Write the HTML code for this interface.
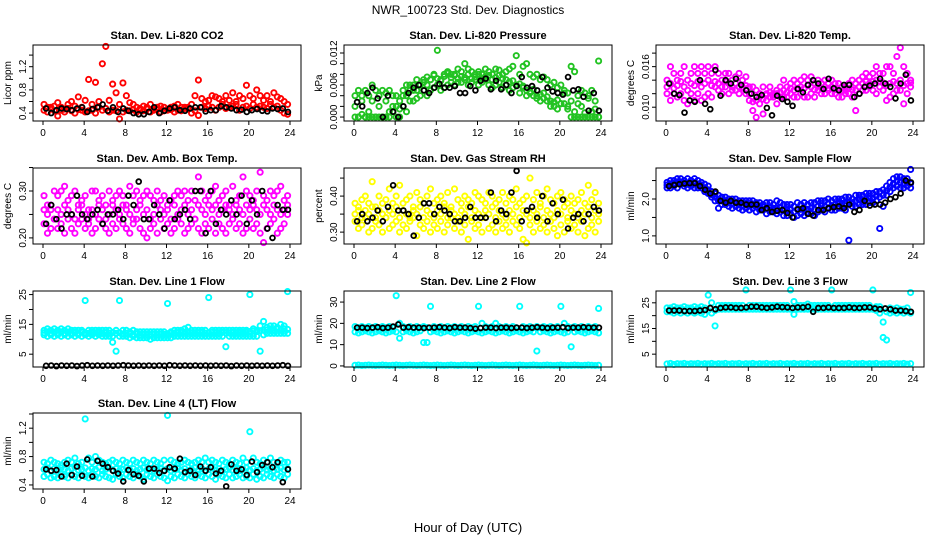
<!DOCTYPE html>
<html><head><meta charset="utf-8"><style>
html,body{margin:0;padding:0;background:#fff;}
svg{display:block;font-family:"Liberation Sans",Arial,sans-serif;}
</style></head><body>
<svg id="c" width="936" height="540" viewBox="0 0 936 540">
<rect width="936" height="540" fill="#fff"/>
<text x="468" y="14" text-anchor="middle" font-size="12">NWR_100723 Std. Dev. Diagnostics</text>
<text x="468" y="532" text-anchor="middle" font-size="13">Hour of Day (UTC)</text>
</svg>
<script>
const xTicks=[0,4,8,12,16,20,24];
// Panel 1 CO2
const co2A=[0.55,0.5,0.48,0.52,0.58,0.5,0.47,0.55,0.6,0.52,0.68,0.5,0.62,0.98,0.55,0.93,0.6,1.25,1.55,0.62,0.9,0.75,0.55,0.92,0.7,0.58,0.55,0.5,0.48,0.52,0.5,0.55,0.48,0.5,0.52,0.5,0.47,0.5,0.52,0.55,0.5,0.48,0.5,0.55,0.7,0.97,0.65,0.6,0.62,0.7,0.68,0.65,0.6,0.7,0.62,0.75,0.6,0.7,0.65,0.88,0.7,0.65,0.8,0.7,0.62,0.7,0.6,0.75,0.68,0.65,0.6,0.55];
const co2B=[0.45,0.42,0.5,0.44,0.35,0.45,0.42,0.48,0.44,0.4,0.46,0.45,0.42,0.44,0.45,0.4,0.5,0.45,0.48,0.42,0.45,0.44,0.3,0.42,0.45,0.44,0.46,0.42,0.45,0.44,0.47,0.42,0.45,0.46,0.42,0.44,0.45,0.46,0.42,0.45,0.44,0.5,0.47,0.4,0.44,0.36,0.5,0.48,0.52,0.5,0.45,0.5,0.55,0.48,0.5,0.52,0.55,0.45,0.5,0.52,0.48,0.55,0.5,0.52,0.5,0.48,0.55,0.5,0.52,0.45,0.4,0.38];
const co2K=[0.48,0.4,0.45,0.48,0.47,0.45,0.48,0.5,0.42,0.47,0.5,0.55,0.44,0.5,0.42,0.48,0.44,0.4,0.38,0.38,0.42,0.5,0.4,0.44,0.48,0.5,0.45,0.44,0.48,0.5,0.5,0.43,0.45,0.45,0.52,0.5,0.48,0.45,0.46,0.42,0.45,0.47,0.44,0.43,0.48,0.47,0.48,0.42];
// Panel 2 Pressure
const prA=[0.004,0.005,0.003,0.005,0.004,0.006,0.005,0.004,0.005,0.003,0.005,0.004,0.002,0.003,0.004,0.006,0.005,0.006,0.005,0.006,0.007,0.006,0.007,0.008,0.0125,0.007,0.008,0.0085,0.008,0.008,0.009,0.0085,0.01,0.009,0.0085,0.008,0.0085,0.008,0.009,0.0085,0.008,0.009,0.0088,0.008,0.0085,0.009,0.0095,0.0115,0.008,0.0095,0.01,0.008,0.0075,0.008,0.007,0.0075,0.007,0.006,0.0065,0.0055,0.006,0.005,0.0045,0.0095,0.0085,0.004,0.005,0.0045,0.004,0.005,0.003,0.0105];
const prB=[0,0,0.0005,0,0,0,0,0,0,0,0.001,0.001,0,0.0015,0.002,0.001,0.003,0.003,0.0035,0.004,0.005,0.004,0.005,0.0055,0.006,0.005,0.0055,0.006,0.0065,0.006,0.0065,0.0065,0.007,0.006,0.0065,0.007,0.006,0.0065,0.007,0.006,0.0055,0.006,0.0065,0.0055,0.006,0.005,0.0055,0.006,0.0045,0.0055,0.004,0.0045,0.004,0.0035,0.003,0.0045,0.003,0.002,0.002,0.0015,0.0025,0.0025,0.0015,0,0,0,0,0,0,0,0,0];
const prC=[0.002,0,0.004,0,0.001,0.003,0,0.002,0,0.0045,0,0.002,0.004,0,0.005,0.004,0.006,0.005,0.007,0.006,0.0065,0.0075,0.007,0.0078,0.0072,0.0068,0.0076,0.0082,0.0074,0.0078,0.0072,0.0076,0.0074,0.008,0.0072,0.0075,0.008,0.0072,0.0076,0.0078,0.007,0.0074,0.0078,0.0072,0.007,0.0066,0.0068,0.006,0.0062,0.0058,0.005,0.0048,0.0052,0.004,0.0042,0.0035,0.0038,0.003,0.0028,0.0032,0.0025,0.0045,0.002,0.003,0.001,0.0025,0.002,0.0008,0.0035,0.001,0.0015,0];
const prK=[0.0028,0.002,0.0045,0.0055,0.0035,0,0.004,0.001,0,0.002,0.0045,0.0055,0.006,0.005,0.0045,0.0055,0.0062,0.0055,0.0055,0.0058,0.0045,0.0045,0.0058,0.005,0.0068,0.0072,0.0052,0.0068,0.0052,0.006,0.0045,0.0058,0.0075,0.0055,0.0058,0.005,0.0075,0.0055,0.0048,0.0045,0.0042,0.0075,0.005,0.0052,0.0038,0.0012,0.0045,0.0012];
// Panel 3 Li-820 Temp
const tpA=[0.014,0.016,0.015,0.014,0.015,0.016,0.014,0.015,0.016,0.015,0.016,0.015,0.016,0.015,0.016,0.015,0.014,0.015,0.015,0.014,0.0145,0.015,0.014,0.0145,0.013,0.013,0.0125,0.012,0.013,0.012,0.013,0.012,0.0125,0.013,0.014,0.013,0.0135,0.014,0.0135,0.014,0.0145,0.014,0.0145,0.0135,0.014,0.0135,0.014,0.0135,0.014,0.0135,0.0135,0.013,0.013,0.0135,0.014,0.0135,0.014,0.0145,0.015,0.0145,0.015,0.016,0.015,0.015,0.016,0.016,0.015,0.0175,0.0188,0.016,0.015,0.014];
const tpB=[0.012,0.011,0.012,0.0115,0.012,0.011,0.0105,0.012,0.011,0.012,0.011,0.0115,0.012,0.0115,0.013,0.0125,0.012,0.013,0.012,0.0125,0.0125,0.012,0.013,0.012,0.011,0.0095,0.0085,0.0105,0.009,0.011,0.0115,0.0115,0.0105,0.0115,0.0115,0.0115,0.012,0.0115,0.0115,0.012,0.0115,0.0115,0.012,0.0115,0.0125,0.012,0.012,0.0125,0.012,0.012,0.0115,0.0115,0.012,0.012,0.0115,0.0095,0.012,0.0125,0.0125,0.013,0.0125,0.012,0.013,0.0125,0.011,0.0115,0.012,0.0125,0.0125,0.0105,0.012,0.013];
const tpC=[0.013,0.0135,0.0128,0.0132,0.0138,0.013,0.0125,0.0135,0.0132,0.0138,0.013,0.0135,0.014,0.0132,0.0138,0.0135,0.013,0.0138,0.0135,0.013,0.0135,0.013,0.0128,0.0132,0.012,0.0108,0.011,0.0115,0.0112,0.0118,0.0122,0.0118,0.012,0.0122,0.0125,0.0122,0.0128,0.0125,0.0128,0.013,0.0128,0.0132,0.013,0.0126,0.0132,0.0128,0.013,0.0128,0.013,0.0126,0.0125,0.0124,0.0125,0.0128,0.0126,0.0125,0.013,0.0135,0.0138,0.0135,0.0138,0.014,0.0138,0.0136,0.0132,0.0135,0.0138,0.0135,0.014,0.0132,0.0135,0.0136];
const tpK=[0.0135,0.012,0.0118,0.0092,0.011,0.0108,0.014,0.0105,0.0097,0.0155,0.0117,0.014,0.0135,0.0142,0.0133,0.0125,0.012,0.0115,0.0118,0.0099,0.0088,0.0117,0.0112,0.0108,0.0102,0.0127,0.0122,0.0133,0.014,0.0135,0.0127,0.0142,0.0128,0.0125,0.0133,0.0133,0.0115,0.012,0.013,0.0132,0.0135,0.0142,0.0135,0.013,0.0113,0.0135,0.0148,0.011];
// Panel 4 Amb Box Temp
const abA=[0.29,0.27,0.26,0.3,0.29,0.3,0.31,0.28,0.29,0.3,0.27,0.28,0.29,0.26,0.3,0.3,0.28,0.29,0.27,0.3,0.28,0.29,0.3,0.29,0.27,0.31,0.29,0.3,0.28,0.29,0.3,0.29,0.28,0.3,0.28,0.29,0.27,0.28,0.29,0.3,0.29,0.3,0.28,0.3,0.28,0.33,0.3,0.28,0.29,0.3,0.31,0.28,0.29,0.3,0.27,0.31,0.28,0.29,0.33,0.3,0.29,0.28,0.3,0.34,0.29,0.28,0.3,0.29,0.3,0.31,0.28,0.29];
const abB=[0.23,0.21,0.22,0.24,0.22,0.23,0.21,0.24,0.22,0.21,0.23,0.24,0.22,0.23,0.21,0.22,0.24,0.23,0.22,0.21,0.23,0.22,0.24,0.23,0.22,0.21,0.23,0.24,0.22,0.21,0.2,0.22,0.23,0.21,0.24,0.22,0.23,0.21,0.22,0.24,0.23,0.21,0.22,0.23,0.24,0.22,0.21,0.23,0.22,0.24,0.21,0.23,0.22,0.21,0.23,0.24,0.22,0.23,0.21,0.22,0.24,0.22,0.23,0.21,0.19,0.22,0.23,0.24,0.21,0.22,0.23,0.25];
const abC=[0.26,0.25,0.27,0.24,0.26,0.25,0.27,0.26,0.25,0.24,0.26,0.27,0.25,0.24,0.26,0.25,0.27,0.26,0.24,0.25,0.27,0.26,0.25,0.27,0.26,0.25,0.24,0.26,0.27,0.25,0.26,0.24,0.25,0.27,0.26,0.25,0.26,0.24,0.27,0.25,0.26,0.27,0.25,0.26,0.24,0.27,0.26,0.25,0.27,0.26,0.27,0.25,0.26,0.27,0.26,0.25,0.27,0.26,0.25,0.27,0.26,0.27,0.26,0.25,0.27,0.26,0.25,0.27,0.26,0.25,0.26,0.27];
const abK=[0.23,0.27,0.24,0.22,0.25,0.25,0.29,0.25,0.24,0.25,0.26,0.23,0.25,0.25,0.26,0.24,0.29,0.27,0.32,0.24,0.24,0.27,0.25,0.22,0.28,0.24,0.25,0.26,0.24,0.3,0.3,0.21,0.3,0.23,0.26,0.25,0.28,0.25,0.29,0.23,0.28,0.25,0.3,0.22,0.2,0.27,0.26,0.26];
// Panel 5 RH
const rhA=[0.38,0.37,0.39,0.4,0.38,0.44,0.37,0.4,0.38,0.39,0.42,0.38,0.4,0.43,0.38,0.39,0.4,0.37,0.41,0.39,0.38,0.4,0.42,0.38,0.39,0.4,0.38,0.41,0.37,0.42,0.39,0.38,0.4,0.39,0.38,0.41,0.4,0.39,0.38,0.41,0.4,0.38,0.39,0.41,0.38,0.4,0.39,0.42,0.38,0.39,0.4,0.45,0.39,0.41,0.38,0.4,0.42,0.39,0.38,0.4,0.41,0.39,0.38,0.4,0.38,0.39,0.41,0.38,0.43,0.39,0.41,0.38];
const rhB=[0.33,0.31,0.32,0.34,0.3,0.31,0.33,0.32,0.3,0.34,0.31,0.32,0.33,0.3,0.32,0.31,0.33,0.34,0.29,0.32,0.31,0.33,0.3,0.32,0.31,0.33,0.3,0.32,0.34,0.31,0.33,0.3,0.32,0.28,0.33,0.31,0.32,0.3,0.34,0.31,0.32,0.3,0.33,0.31,0.32,0.3,0.33,0.32,0.31,0.28,0.27,0.32,0.3,0.33,0.31,0.32,0.3,0.33,0.31,0.29,0.32,0.3,0.33,0.31,0.32,0.3,0.33,0.29,0.31,0.32,0.3,0.33];
const rhC=[0.35,0.36,0.34,0.36,0.35,0.37,0.34,0.36,0.35,0.34,0.36,0.35,0.37,0.34,0.36,0.35,0.34,0.36,0.35,0.37,0.34,0.36,0.35,0.34,0.36,0.35,0.37,0.34,0.36,0.35,0.34,0.36,0.35,0.37,0.34,0.36,0.35,0.34,0.36,0.35,0.37,0.34,0.36,0.35,0.34,0.36,0.35,0.37,0.34,0.36,0.35,0.34,0.36,0.35,0.37,0.34,0.36,0.35,0.34,0.36,0.35,0.37,0.34,0.36,0.35,0.34,0.36,0.35,0.37,0.34,0.36,0.35];
const rhK=[0.33,0.35,0.33,0.34,0.36,0.33,0.37,0.43,0.36,0.36,0.35,0.29,0.34,0.38,0.38,0.35,0.37,0.36,0.35,0.33,0.33,0.34,0.37,0.34,0.34,0.34,0.41,0.33,0.36,0.35,0.41,0.47,0.33,0.36,0.37,0.34,0.4,0.33,0.38,0.35,0.39,0.31,0.34,0.35,0.33,0.35,0.37,0.36];
// Panel 6 Sample Flow
const sfA=[2.45,2.5,2.5,2.55,2.55,2.5,2.55,2.5,2.55,2.5,2.45,2.4,2.35,2.2,2.15,2.1,2.05,2.05,2.0,2.0,2.0,1.95,1.95,1.95,1.95,1.95,1.9,1.9,1.85,1.9,1.9,1.85,1.95,1.9,1.85,1.85,1.85,1.8,1.9,1.85,1.9,1.85,1.9,1.9,1.95,1.95,1.95,2.0,1.95,2.0,2.0,2.0,2.05,2.05,2.0,2.1,2.1,2.1,2.15,2.15,2.15,2.2,2.2,2.25,2.35,2.45,2.55,2.6,2.6,2.55,2.55,2.8];
const sfB=[2.3,2.3,2.35,2.3,2.4,2.35,2.3,2.35,2.3,2.3,2.3,2.2,2.15,2.05,1.95,1.75,1.85,1.85,1.8,1.75,1.8,1.75,1.7,1.75,1.7,1.75,1.65,1.7,1.7,1.6,1.65,1.65,1.6,1.65,1.55,1.55,1.6,1.5,1.55,1.6,1.55,1.6,1.6,1.55,1.65,1.7,1.65,1.75,1.7,1.7,1.75,1.75,1.7,0.88,1.8,1.8,1.85,1.85,1.85,1.9,1.9,1.95,1.2,1.8,2.1,2.2,2.3,2.35,2.3,2.3,2.35,2.3];
const sfC=[2.38,2.4,2.42,2.45,2.45,2.42,2.4,2.42,2.45,2.4,2.38,2.3,2.25,2.12,2.05,1.95,1.95,1.95,1.9,1.88,1.9,1.85,1.82,1.85,1.82,1.85,1.78,1.8,1.78,1.75,1.78,1.75,1.75,1.78,1.7,1.7,1.72,1.65,1.72,1.72,1.72,1.72,1.75,1.72,1.8,1.82,1.8,1.88,1.82,1.85,1.88,1.88,1.88,1.9,1.9,1.95,1.98,1.98,2.0,2.02,2.02,2.08,2.05,2.1,2.22,2.32,2.42,2.48,2.45,2.42,2.45,2.42];
const sfK=[2.35,2.38,2.4,2.42,2.43,2.43,2.35,2.25,2.15,2.2,1.95,1.9,1.95,1.9,1.9,1.85,1.85,1.85,1.7,1.75,1.65,1.68,1.7,1.62,1.5,1.72,1.75,1.6,1.55,1.7,1.7,1.75,1.78,1.8,1.75,1.85,1.65,1.7,1.95,1.82,1.85,1.85,1.9,2.0,2.05,2.15,2.5,2.45];
// Panel 7 Line 1 Flow
const l1A=[13,13.5,13,13.5,13,13.5,13,13.5,13,13,13,13,23,13,13,13,13,13,13,13,9,13,23,13,13,12.5,13,12.5,12.5,12.5,12.5,12.5,12.5,12.5,12.5,12.5,22,12.5,13,13,13,13.5,14,13,13,13,13,13,24,13,13,13,13,13,13,13,13,13,13,13,25,13.5,13,14.5,16,14,14.5,14.5,14,15,14.5,26];
const l1B=[11.5,11,11.5,11,11.5,11,11.5,11,11.5,11,11.5,11,11.5,11,11.5,11,11.5,11,11,11,11,6,11,11,11,10.5,11,10.5,10.5,10.5,10.5,10,10.5,10.5,10.5,10.5,10.5,10.5,11,11,11,11,11,11,11,11,11,11,11,11,11,11,11,7.5,11,11,11,11,11,11,11,11,11,6,11.5,12,12,12,12,12,12,12];
const l1C=[12.2,12.5,12,12.4,12.2,12.5,12,12.4,12.2,12.3,12.1,12.4,12.2,12,12.3,12.1,12.4,12,12.2,12.1,12.3,12,12.2,11.8,12,11.8,11.6,11.8,11.5,11.7,11.6,11.5,11.7,11.6,11.8,11.7,11.9,12,12.1,12.2,12.3,12.4,12.5,12.2,12.1,12.2,12.3,12.1,12.2,12.3,12.2,12.1,12.3,12.2,12.1,12.3,12.2,12.4,12.3,12.5,12.6,12.8,12.6,12.9,13,13.2,13.3,13.1,13.4,13.2,13.5,13.3];
const l1K=[1.1,1.2,1.0,1.2,1.1,1.2,1.0,1.2,1.3,1.1,1.2,1.1,1.2,1.1,1.2,1.3,1.2,1.1,1.2,1.1,1.2,1.1,1.2,1.1,1.3,1.2,1.1,1.2,1.1,1.2,1.1,1.2,1.1,1.2,1.1,1.2,1.0,1.2,1.1,1.2,1.1,1.2,1.1,1.2,1.1,1.2,1.3,1.1];
// Panel 8 Line 2 Flow
const l2A=[18.5,18,18.5,18,18.5,18,18.5,18,18.5,18,18.5,18,33,20,18.5,18,18.5,18,18.5,18,18.5,18,28,18.5,18,18.5,18,18.5,18,18.5,18,18.5,18,18.5,18,18.5,28,20,18.5,18,18.5,20,18.5,18,18.5,18,18.5,18,28,18.5,18,18.5,18,18.5,18,18.5,18,18.5,18,18.5,28,20,18.5,18,18.5,18,18.5,18,18.5,18,18.5,27];
const l2B=[16,15.5,16,16.5,16,15.5,16,16.5,16,15.5,16,16.5,16,13,16,16.5,16,15.5,16,16.5,11,11,16,16.5,16,15.5,16,16.5,16,15.5,16,16.5,16,15.5,16,16.5,16,15.5,16,16.5,16,15.5,16,16.5,16,15.5,16,16.5,16,15.5,16,16.5,16,7,16,16.5,16,15.5,16,16.5,16,15.5,16,9,16,16.5,16,15.5,16,16.5,16,15.5];
const l2C=[0.3,0.4,0.2,0.3,0.4,0.3,0.2,0.3,0.4,0.3,0.2,0.3,0.4,0.3,0.2,0.3,0.4,0.3,0.2,0.3,0.4,0.3,0.2,0.3,0.4,0.3,0.2,0.3,0.4,0.3,0.2,0.3,0.4,0.3,0.2,0.3,0.4,0.3,0.2,0.3,0.4,0.3,0.2,0.3,0.4,0.3,0.2,0.3,0.4,0.3,0.2,0.3,0.4,0.3,0.2,0.3,0.4,0.3,0.2,0.3,0.4,0.3,0.2,0.3,0.4,0.3,0.2,0.3,0.4,0.3,0.2,0.3];
const l2K=[18,18,17.8,18,18.2,17.8,18,18.5,19.5,18,18.2,18,18,17.8,18,18,18.2,18,17.8,18.2,18,18,17.8,17.5,17.8,18,18,17.8,18,18,17.8,18,18,17.8,18,18.2,18,17.8,18,18,18.2,17.8,18,18,18.2,18,18,18];
// Panel 9 Line 3 Flow
const l3A=[23,23,23.5,23,23,23.5,23,23,23.5,23,23.5,23,28,25,16,24,24,24,24,24,24,24,24,30,24,24,24,24,24,24,24,24,24,24,24,24,30,25.5,24,24,24,24.5,24,24,24,24,24,24,30,24,24,24,24,24,24,24,24,24,24,24,30,23.5,23.5,11.5,10.5,23,22.5,23,22.5,22.5,23,29];
const l3B=[21.5,21.5,21,21.5,21,21.5,21,21.5,21,21.5,21,20.5,22,21,22,22.5,22.5,22.5,22.5,22.5,22.5,22.5,22.5,22.5,22.5,22.5,22.5,22.5,22.5,22.5,22.5,22.5,22.5,22.5,22.5,22.5,22.5,20.5,22.5,22.5,22.5,22.5,22.5,22.5,22.5,22.5,22.5,22.5,22.5,22.5,22.5,22.5,22.5,22.5,22.5,22.5,22.5,22.5,22.5,22.5,22.5,22,21,17.5,21.5,21,21.5,21,21.5,21,21.5,21];
const l3C=[1.2,1.4,1.0,1.3,1.2,1.4,1.1,1.3,1.2,1.4,1.1,1.3,1.2,1.4,1.1,1.3,1.2,1.4,1.1,1.3,1.2,1.4,1.1,1.3,1.2,1.4,1.1,1.3,1.2,1.4,1.1,1.3,1.2,1.4,1.1,1.3,1.2,1.4,1.1,1.3,1.2,1.4,1.1,1.3,1.2,1.4,1.1,1.3,1.2,1.4,1.1,1.3,1.2,1.4,1.1,1.3,1.2,1.4,1.1,1.3,1.2,1.4,1.1,1.3,1.2,1.4,1.1,1.3,1.2,1.4,1.1,1.3];
const l3K=[22,22,22,21.8,21.8,21.8,22,22.2,23,22.5,23,23.2,23.2,23,23,23.2,23.5,23.5,23.2,23,23.2,23.5,23.3,23.2,23,23.2,23.2,23.5,21.5,23,23,23.2,23,23,23,23.2,23,23,23.2,23.2,22.8,22.5,22.8,22.5,22,22,21.8,21.5];
// Panel 10 Line 4 Flow
const l4A=[0.72,0.7,0.75,0.72,0.7,0.68,0.72,0.75,0.72,0.78,0.7,0.72,1.33,0.78,0.72,0.8,0.75,0.72,0.7,0.72,0.75,0.72,0.7,0.75,0.72,0.7,0.75,0.72,0.7,0.75,0.72,0.7,0.75,0.72,0.7,0.75,1.38,0.75,0.72,0.7,0.72,0.75,0.72,0.7,0.72,0.75,0.72,0.78,0.72,0.75,0.72,0.7,0.75,0.72,0.7,0.75,0.72,0.7,0.78,0.72,1.15,0.78,0.72,0.7,0.75,0.72,0.78,0.72,0.7,0.75,0.72,0.72];
const l4B=[0.52,0.55,0.5,0.52,0.5,0.55,0.52,0.5,0.55,0.52,0.5,0.55,0.52,0.5,0.55,0.52,0.5,0.55,0.52,0.5,0.48,0.55,0.52,0.5,0.55,0.52,0.5,0.55,0.52,0.48,0.55,0.52,0.5,0.55,0.52,0.5,0.46,0.52,0.5,0.55,0.52,0.5,0.55,0.52,0.5,0.55,0.52,0.5,0.55,0.52,0.48,0.55,0.52,0.5,0.55,0.5,0.52,0.55,0.5,0.52,0.5,0.55,0.48,0.52,0.5,0.55,0.52,0.5,0.55,0.52,0.5,0.55];
const l4C=[0.62,0.64,0.6,0.63,0.61,0.64,0.62,0.6,0.63,0.65,0.61,0.62,0.64,0.6,0.63,0.62,0.65,0.6,0.62,0.64,0.61,0.63,0.6,0.62,0.64,0.61,0.63,0.6,0.62,0.64,0.61,0.63,0.6,0.62,0.64,0.61,0.63,0.6,0.62,0.64,0.61,0.63,0.6,0.62,0.64,0.61,0.63,0.6,0.62,0.64,0.61,0.63,0.6,0.62,0.64,0.61,0.63,0.6,0.62,0.64,0.61,0.63,0.6,0.62,0.64,0.61,0.63,0.6,0.62,0.64,0.61,0.63];
const l4K=[0.62,0.6,0.61,0.52,0.7,0.54,0.66,0.53,0.76,0.52,0.74,0.7,0.65,0.6,0.56,0.45,0.61,0.55,0.53,0.45,0.63,0.63,0.57,0.6,0.65,0.63,0.77,0.58,0.6,0.54,0.66,0.6,0.65,0.56,0.6,0.38,0.69,0.6,0.62,0.54,0.73,0.58,0.68,0.72,0.65,0.72,0.44,0.62];

const panels=[
 {name:'co2',title:'Stan. Dev. Li-820 CO2',ylab:'Licor ppm',col:0,row:0,min:0.264,max:1.574,ticks:[0.4,0.6,0.8,1.0,1.2,1.4],labels:[0.4,0.8,1.2],fmt:1,color:'#ff0000',series:[co2A,co2B],black:co2K},
 {name:'pressure',title:'Stan. Dev. Li-820 Pressure',ylab:'kPa',col:1,row:0,min:-0.00074,max:0.0135,ticks:[0,0.002,0.004,0.006,0.008,0.010,0.012],labels:[0,0.006,0.012],fmt:3,color:'#22c322',series:[prA,prB,prC],black:prK},
 {name:'licor-temp',title:'Stan. Dev. Li-820 Temp.',ylab:'degrees C',col:2,row:0,min:0.00796,max:0.0192,ticks:[0.010,0.012,0.014,0.016,0.018],labels:[0.010,0.016],fmt:3,color:'#ff00ff',series:[tpA,tpB,tpC],black:tpK},
 {name:'amb-temp',title:'Stan. Dev. Amb. Box Temp.',ylab:'degrees C',col:0,row:1,min:0.187,max:0.349,ticks:[0.20,0.25,0.30,0.35],labels:[0.20,0.30],fmt:2,color:'#ff00ff',series:[abA,abB,abC],black:abK},
 {name:'gas-rh',title:'Stan. Dev. Gas Stream RH',ylab:'percent',col:1,row:1,min:0.267,max:0.478,ticks:[0.30,0.35,0.40,0.45],labels:[0.30,0.40],fmt:2,color:'#ffff00',series:[rhA,rhB,rhC],black:rhK},
 {name:'sample-flow',title:'Stan. Dev. Sample Flow',ylab:'ml/min',col:2,row:1,min:0.78,max:2.84,ticks:[1.0,1.5,2.0,2.5],labels:[1.0,2.0],fmt:1,color:'#0000ff',series:[sfA,sfB,sfC],black:sfK},
 {name:'line1-flow',title:'Stan. Dev. Line 1 Flow',ylab:'ml/min',col:0,row:2,min:0.7,max:26.2,ticks:[5,10,15,20,25],labels:[5,15,25],fmt:0,color:'#00ffff',series:[l1A,l1B,l1C],black:l1K},
 {name:'line2-flow',title:'Stan. Dev. Line 2 Flow',ylab:'ml/min',col:1,row:2,min:-0.5,max:35.2,ticks:[0,10,20,30],labels:[0,10,20,30],fmt:0,color:'#00ffff',series:[l2A,l2B,l2C],black:l2K},
 {name:'line3-flow',title:'Stan. Dev. Line 3 Flow',ylab:'ml/min',col:2,row:2,min:0,max:29.6,ticks:[5,10,15,20,25],labels:[5,15,25],fmt:0,color:'#00ffff',series:[l3A,l3B,l3C],black:l3K},
 {name:'line4-flow',title:'Stan. Dev. Line 4 (LT) Flow',ylab:'ml/min',col:0,row:3,min:0.343,max:1.414,ticks:[0.4,0.6,0.8,1.0,1.2,1.4],labels:[0.4,0.8,1.2],fmt:1,color:'#00ffff',series:[l4A,l4B,l4C],black:l4K}
];
const NS='http://www.w3.org/2000/svg';
const svg=document.getElementById('c');
const lefts=[33,344,656], tops=[45,168,291,413], W=268, H=76;
function mk(tag,attrs,parent){const e=document.createElementNS(NS,tag);for(const k in attrs)e.setAttribute(k,attrs[k]);parent.appendChild(e);return e;}
panels.forEach(p=>{
  const L=lefts[p.col], T=tops[p.row], B=T+H;
  const g=mk('g',{},svg);
  
  
  const xs=v=>L+10+v*(W-21)/24;
  const ys=v=>B-(v-p.min)/(p.max-p.min)*H;
  const t=mk('text',{x:L+W/2,y:T-6,'text-anchor':'middle','font-size':11,'font-weight':'bold'},g);
  t.textContent=p.title;
  
  
  const pts=mk('g',{fill:'none',stroke:p.color,'stroke-width':1.9},g);
  
  
  p.series.forEach(arr=>{arr.forEach((v,i)=>{
    const c=mk('circle',{cx:xs((i+0.3)*24/arr.length),cy:ys(v),r:2.6},pts);
    
    
  });});
  const kp=mk('g',{fill:'none',stroke:'#000','stroke-width':1.8},g);
  
  
  p.black.forEach((v,i)=>{
    const c=mk('circle',{cx:xs((i+0.6)*24/p.black.length),cy:ys(v),r:2.4},kp);
    
    
  });
  const box=mk('rect',{x:L,y:T,width:W,height:H,fill:'none',stroke:'#000','stroke-width':1},g);
  
  
  mk('line',{x1:xs(0),x2:xs(24),y1:B,y2:B,stroke:'#000'},g);
  xTicks.forEach(v=>{
    mk('line',{x1:xs(v),x2:xs(v),y1:B,y2:B+4,stroke:'#000'},g);
    const tl=mk('text',{x:xs(v),y:B+15,'text-anchor':'middle','font-size':10},g);
    tl.textContent=v;
    
    
  });
  mk('line',{x1:L,x2:L,y1:ys(p.ticks[0]),y2:ys(p.ticks[p.ticks.length-1]),stroke:'#000'},g);
  p.ticks.forEach(v=>{mk('line',{x1:L-4,x2:L,y1:ys(v),y2:ys(v),stroke:'#000'},g);});
  p.labels.forEach(v=>{
    const y=ys(v);
    const tl=mk('text',{x:L-7,y:y,'text-anchor':'middle','font-size':10,transform:`rotate(-90 ${L-7} ${y})`},g);
    tl.textContent=v.toFixed(p.fmt);
    
    
  });
  const yl=mk('text',{x:L-22,y:T+H/2,'text-anchor':'middle','font-size':10,transform:`rotate(-90 ${L-22} ${T+H/2})`},g);
  yl.textContent=p.ylab;
  
  
});
</script>
</body></html>
